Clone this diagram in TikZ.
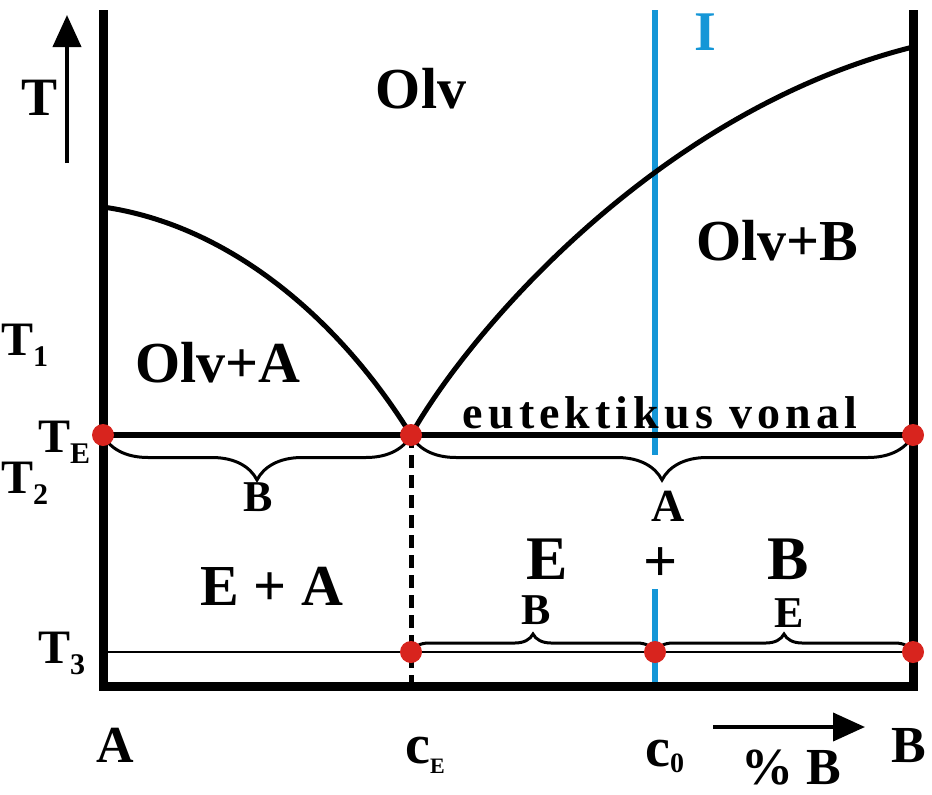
\documentclass[tikz,border=0pt]{standalone}
\usepackage{fontspec}
\setmainfont{Liberation Serif}
\usepackage{tikz}
\usetikzlibrary{arrows.meta,decorations.pathreplacing}
\definecolor{dotred}{HTML}{D8241E}
\definecolor{isoblue}{HTML}{1496D7}
\newcommand{\lowidx}[2][11pt]{\raisebox{-#1}{\fontsize{30}{30}\selectfont\bfseries #2}}
\tikzset{
  phaselbl/.style={inner sep=0pt,anchor=base,font=\fontsize{58}{58}\selectfont\bfseries},
  bracelbl/.style={inner sep=0pt,anchor=base,font=\fontsize{44}{44}\selectfont\bfseries},
  tlbl/.style={inner sep=0pt,font=\fontsize{48}{48}\selectfont\bfseries},
  phaseline/.style={line width=5pt},
  isoline/.style={line width=6pt,draw=isoblue},
  dot/.style={circle,fill=dotred,inner sep=0pt,minimum size=22pt},
  brc/.style={decorate,decoration={brace,amplitude=#1},line width=3pt},
  axarrow/.style={line width=4pt,-{Triangle[length=32pt,width=28pt]}}
}

\begin{document}
\begin{tikzpicture}[x=1pt,y=-1pt]
  \useasboundingbox (0,0) rectangle (932,795);
  \clip (0,0) rectangle (932,795);

  % corners and ends
  \coordinate (Atop) at (103,10);
  \coordinate (Abot) at (103,686);
  \coordinate (Bbot) at (913,686);
  \coordinate (Btop) at (913,10);
  \coordinate (liqA) at (103,207);
  \coordinate (liqB) at (913,47);
  \coordinate (teA) at (103,435);
  \coordinate (eut) at (411,435);
  \coordinate (teB) at (913,435);
  \coordinate (t3A) at (103,652);
  \coordinate (t3E) at (411,652);
  \coordinate (t3C) at (655,652);
  \coordinate (t3B) at (913,652);
  \coordinate (cEbot) at (411,686);
  \coordinate (Itop) at (655,10);
  \coordinate (Igap) at (655,455);
  \coordinate (Ires) at (655,589);
  \coordinate (Ibot) at (655,683);

  % isopleth I
  \draw[isoline] (Itop) -- (Igap);
  \draw[isoline] (Ires) -- (Ibot);

  % lines of the diagram
  \draw[line width=2.5pt] (t3A) -- (t3B);
  \draw[line width=6pt] (teA) -- (teB);
  \draw[line width=5pt,dash pattern=on 13pt off 7pt] (eut) -- (cEbot);
  \draw[line width=9pt] (Atop) -- (Abot) -- (Bbot) -- (Btop);
  \draw[phaseline] (liqA) .. controls (230,225) and (340,320) .. (eut);
  \draw[phaseline] (eut) .. controls (470,330) and (660,110) .. (liqB);

  % braces
  \draw[brc=45pt] (eut) -- (teA);
  \draw[brc=45pt] (teB) -- (eut);
  \draw[brc=18pt] (t3E) -- (t3C);
  \draw[brc=18pt] (t3C) -- (t3B);

  \foreach \p in {teA,eut,teB,t3E,t3C,t3B}
    \node[dot] (d-\p) at (\p) {};

  % axis arrows
  \coordinate (Tfoot) at (67,163);
  \coordinate (Thead) at (67,15);
  \coordinate (Cfoot) at (713,727);
  \coordinate (Chead) at (865,727);
  \draw[axarrow] (Tfoot) -- (Thead);
  \draw[axarrow] (Cfoot) -- (Chead);

  % labels
  \node[tlbl,anchor=base,font=\fontsize{54}{54}\selectfont\bfseries] (Tax) at (40,115) {T};
  \node[phaselbl,text=isoblue,font=\fontsize{56}{56}\selectfont\bfseries] (Ilbl) at (705,50) {I};
  \node[phaselbl] (olv) at (421,108) {Olv};
  \node[phaselbl] (olvB) at (777,260) {Olv+B};
  \node[phaselbl] (olvA) at (218,382) {Olv+A};
  \node[inner sep=0pt,anchor=base,font=\fontsize{46}{46}\selectfont\bfseries\addfontfeature{LetterSpace=11}] (eutlbl) at (660,428) {eutektikus vonal};
  \node[tlbl,anchor=base west] (T1) at (1,355) {T\lowidx{1}};
  \node[tlbl,anchor=base west] (TE) at (38,452) {T\lowidx{E}};
  \node[tlbl,anchor=base west] (T2) at (1,493) {T\lowidx{2}};
  \node[tlbl,anchor=base west] (T3) at (38,663) {T\lowidx{3}};

  \node[bracelbl] (bB1) at (258,511) {B};
  \node[bracelbl,font=\fontsize{46}{46}\selectfont\bfseries] (bA) at (668,521) {A};
  \node[bracelbl] (bB2) at (536,624) {B};
  \node[bracelbl] (bE) at (789,627) {E};

  \node[phaselbl,font=\fontsize{62}{62}\selectfont\bfseries] (rE) at (547,579) {E};
  \node[phaselbl,font=\fontsize{60}{60}\selectfont\bfseries] (rplus) at (661,581) {+};
  \node[phaselbl,font=\fontsize{62}{62}\selectfont\bfseries] (rB) at (788,579) {B};
  \node[phaselbl] (EA) at (272,605) {E + A};

  \node[phaselbl,font=\fontsize{52}{52}\selectfont\bfseries] (xA) at (115,762) {A};
  \node[phaselbl,font=\fontsize{52}{52}\selectfont\bfseries] (xB) at (909,762) {B};
  \node[tlbl,anchor=base west,font=\fontsize{56}{56}\selectfont\bfseries] (cE) at (405,763) {c\lowidx[10pt]{\fontsize{22}{22}\selectfont E}};
  \node[tlbl,anchor=base west,font=\fontsize{56}{56}\selectfont\bfseries] (c0) at (645,766) {c\lowidx[6pt]{\fontsize{28}{28}\selectfont 0}};
  \node[phaselbl,font=\fontsize{52}{52}\selectfont\bfseries] (pctB) at (791,784) {\% B};
\end{tikzpicture}
\end{document}
